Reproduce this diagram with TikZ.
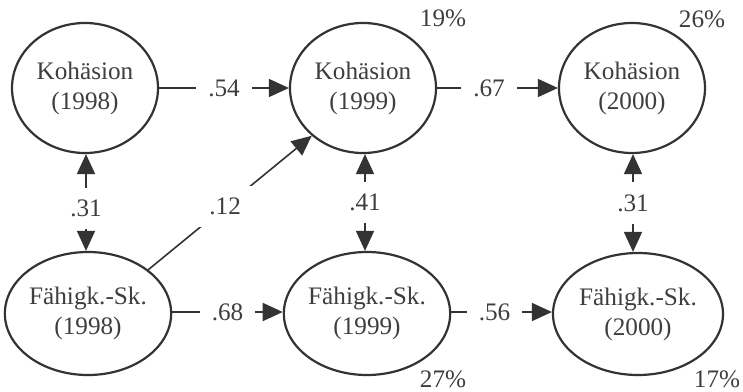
\documentclass[tikz,border=0pt]{standalone}
\usepackage{fontspec}
\setmainfont{Liberation Serif}
\usetikzlibrary{shapes.geometric,arrows.meta}
\definecolor{ink}{HTML}{333333}
\definecolor{txt}{HTML}{3E3E3E}
\begin{document}
\begin{tikzpicture}[x=0.5pt,y=-0.5pt,
  font=\fontsize{12.6}{15}\selectfont,
  latent/.style={ellipse,draw=ink,line width=1.1pt,inner sep=0pt,
    align=center,text=txt},
  kbox/.style={latent,minimum width=73pt,minimum height=65pt},
  effect/.style={draw=ink,line width=0.8pt,
    -{Triangle[length=10pt,width=9pt]}},
  corr/.style={draw=ink,line width=0.8pt,
    {Triangle[length=10pt,width=9pt]}-{Triangle[length=10pt,width=9pt]}},
  coef/.style={fill=white,text=txt,inner xsep=6pt,inner ysep=6pt},
  share/.style={text=txt,inner sep=0pt}]
\useasboundingbox (0,0) rectangle (743,391);

% latent variables: cohesion (top row) and ability self-concept (bottom row)
\node[kbox] (k98) at (85,88)  {Kohäsion\\(1998)};
\node[kbox] (k99) at (363,88) {Kohäsion\\(1999)};
\node[kbox] (k00) at (632,88) {Kohäsion\\(2000)};
\node[latent,minimum width=80.5pt,minimum height=61.5pt] (f98) at (88,313.5)  {Fähigk.-Sk.\\(1998)};
\node[latent,minimum width=80pt,minimum height=61.5pt]   (f99) at (367,313.5) {Fähigk.-Sk.\\(1999)};
\node[latent,minimum width=85pt,minimum height=61pt]     (f00) at (638,314)   {Fähigk.-Sk.\\(2000)};

% stability paths
\draw[effect] (k98) -- node[coef,pos=0.5]{.54} (k99);
\draw[effect] (k99) -- node[coef,pos=0.43]{.67} (k00);
\draw[effect] (f98.east |- 0,312) -- node[coef,pos=0.5]{.68} (f99.west |- 0,312);
\draw[effect] (f99.east |- 0,312) -- node[coef,pos=0.43]{.56} (f00.west |- 0,312);

% cross-lagged path
\draw[effect] (f98.36) -- node[coef,pos=0.47]{.12} (k99.223);

% correlations within each wave
\draw[corr] (k98.south -| 86,0) -- node[coef,pos=0.56]{.31} (f98.north -| 86,0);
\draw[corr] (k99.south -| 365,0) -- node[coef,pos=0.5]{.41} (f99.north -| 365,0);
\draw[corr] (k00.south -| 633,0) -- node[coef,pos=0.5]{.31} (f00.north -| 633,0);

% explained variance
\node[share] (r1) at (443,18)  {19\%};
\node[share] (r2) at (702,19)  {26\%};
\node[share] (r3) at (443,379) {27\%};
\node[share] (r4) at (717,379) {17\%};
\end{tikzpicture}
\end{document}
